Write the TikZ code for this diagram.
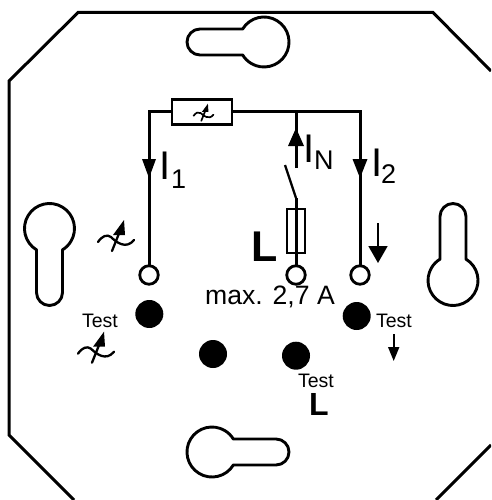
\documentclass[tikz,border=0pt]{standalone}
\usepackage{fontspec}
\setmainfont{Liberation Sans}
\usetikzlibrary{arrows.meta}
\def\varw{2.3pt}
\tikzset{
  outline/.style={line width=3pt,line join=miter},
  wire/.style={line width=3pt},
  thinwire/.style={line width=2.3pt},
  hole/.style={circle,draw,line width=2.8pt,fill=white,minimum size=18.5pt,inner sep=0pt,outer sep=0pt},
  dot/.style={circle,fill=black,minimum size=28pt,inner sep=0pt,outer sep=0pt},
  boxpart/.style={rectangle,draw,line width=2.8pt,inner sep=0pt,outer sep=0pt},
  keyhole/.pic={\draw[line width=2.9pt,line join=round] (21.35,13) arc[start angle=31.3,end angle=328.7,radius=25] -- (64,-13) arc[start angle=-90,end angle=90,radius=13] -- cycle;},
  varsym/.pic={
    \draw[line width=\varw,line cap=round] (-18,7) .. controls (-14,1) and (-9,-1) .. (-5,2) .. controls (0,7) and (10,15) .. (18,5);
    \draw[line width=\varw,line cap=round] (-4,16) -- (4,-4);
    \fill (8,-15) -- (-3,0) -- (9,0) -- cycle;
  },
  curlabel/.style={font=\fontsize{40}{40}\selectfont,inner sep=0pt,anchor=base west},
  sublabel/.style={font=\fontsize{27}{27}\selectfont,inner sep=0pt,anchor=base west},
  testlabel/.style={font=\fontsize{19.5}{19.5}\selectfont,inner sep=0pt}
  ,bigL/.style={font=\bfseries\fontsize{43}{43}\selectfont,inner sep=0pt,anchor=base west},
  midL/.style={font=\bfseries\fontsize{32}{32}\selectfont,inner sep=0pt,anchor=base west}
}
\begin{document}
\begin{tikzpicture}[x=1pt,y=-1pt]
\useasboundingbox (0,0) rectangle (491,500);
% plate outline (runs off the right and bottom of the picture)
\begin{scope}
\clip (0,0) rectangle (491,500);
\draw[outline] (74,500) -- (9,435) -- (9,81) -- (78,12.5) -- (433,12.5) -- (491,71);
\draw[outline] (491,445) -- (436,500);
\end{scope}
% keyholes
\pic at (264,42) [rotate=180] {keyhole};
\pic at (212,452) {keyhole};
\pic at (453,280.5) [rotate=90] {keyhole};
\pic at (49.5,228.5) [rotate=-90] {keyhole};
% terminals and parts
\node[hole] (h1) at (149,275) {};
\node[hole] (h3) at (360,275) {};
\coordinate (swb) at (296,198);
\coordinate (swt) at (285,165);
\coordinate (j) at (296,111.7);
\coordinate (ist) at (296,168);
\draw[wire] (296,266) -- (swb);
\node[hole] (h2) at (296,275) {};
\node[boxpart,minimum width=18pt,minimum height=44pt] (fuse) at (296,231) {};
\node[boxpart,fill=white,minimum width=60pt,minimum height=25pt] (res) at (202,111.7) {};
\draw[wire] (h1) |- (res);
\draw[wire] (res) -| (h3);
\draw[thinwire] (swb) -- (swt);
\draw[wire] (ist) -- (j);
% current arrows
\fill (149,178) -- (142,159) -- (156,159) -- cycle;
\fill (360,178) -- (352.5,159) -- (367.5,159) -- cycle;
\fill (296,128) -- (288,146) -- (304,146) -- cycle;
% small arrows
\coordinate (a1) at (378,223); \coordinate (a2) at (378,263);
\draw[line width=1.8pt,-{Triangle[length=17pt,width=19pt]}] (a1) -- (a2);
\coordinate (b1) at (393.7,334); \coordinate (b2) at (393.7,361);
\draw[line width=1.8pt,-{Triangle[length=14pt,width=11pt]}] (b1) -- (b2);
% dots
\node[dot] (d1) at (149.3,314) {};
\node[dot] (d2) at (213,354) {};
\node[dot] (d3) at (296,355.7) {};
\node[dot] (d4) at (356.7,316) {};
% variable symbols
\pic at (116,235) {varsym};
\pic at (96,346.7) {varsym};
{\def\varw{1.7pt}\pic[scale=.55] at (203.5,112) {varsym};}
% labels
\node[curlabel] (i1) at (159,179) {I};
\node[sublabel] (s1) at (171,188) {1};
\node[curlabel] (in) at (303,162) {I};
\node[sublabel] (sn) at (314,169) {N};
\node[curlabel] (i2) at (371,176) {I};
\node[sublabel] (s2) at (381,183) {2};
\node[bigL] (l1) at (251,261) {L};
\node[midL] (l2) at (309,415) {L};
\node[font=\fontsize{26.6}{26.6}\selectfont,inner sep=0pt] (mx) at (270,297) {max. 2,7 A};
\node[testlabel] (t1) at (100,321) {Test};
\node[testlabel] (t2) at (394,321) {Test};
\node[testlabel] (t3) at (316,381) {Test};
\end{tikzpicture}
\end{document}
